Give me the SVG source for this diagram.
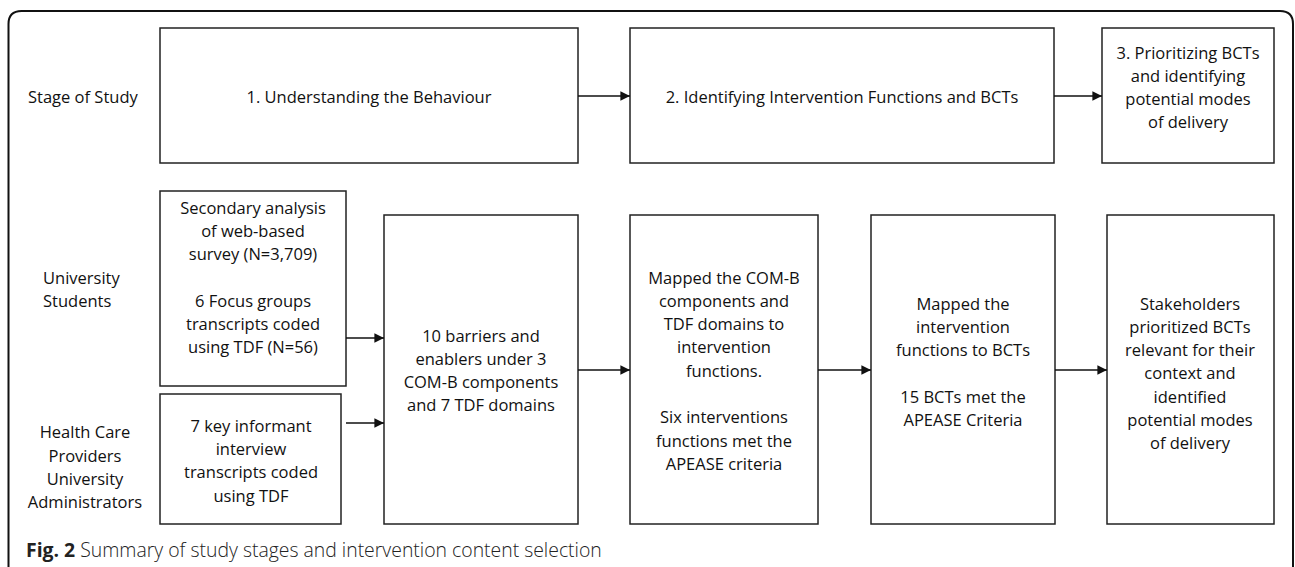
<svg xmlns="http://www.w3.org/2000/svg" width="1295" height="567" viewBox="0 0 1295 567">
<style>
.box{fill:#fff;stroke:#222;stroke-width:1.5}
.t{font-family:"Open Sans","Noto Sans",sans-serif;font-size:16.5px;fill:#111;text-anchor:middle}
.l{font-family:"Open Sans","Noto Sans",sans-serif;font-size:16.5px;fill:#111}
.c{stroke:#111;stroke-width:1.6;fill:none;marker-end:url(#ah)}
.cap{font-family:"Open Sans","Noto Sans",sans-serif;font-size:19.4px;fill:#222}
</style>
<defs>
<marker id="ah" viewBox="0 0 10 10" refX="10" refY="5" markerWidth="6" markerHeight="6" orient="auto" markerUnits="strokeWidth">
<path d="M0,0 L10,5 L0,10 z" fill="#111"/>
</marker>
</defs>
<rect width="1295" height="567" fill="#fff"/>
<path d="M8.5,567 V24 Q8.5,11 21.5,11 H1280 Q1293,11 1293,24 V567" fill="none" stroke="#111" stroke-width="2"/>

<g id="label-stage"><text class="l" x="28" y="103">Stage of Study</text></g>
<g id="label-students"><text class="l" x="43" y="284">University</text><text class="l" x="43" y="307">Students</text></g>
<g id="label-providers">
<text class="t" x="85" y="438">Health Care</text>
<text class="t" x="85" y="462">Providers</text>
<text class="t" x="85" y="485">University</text>
<text class="t" x="85" y="508">Administrators</text>
</g>

<g id="stage1"><rect class="box" x="160" y="28" width="418" height="135"/>
<text class="t" x="369" y="103">1. Understanding the Behaviour</text></g>
<g id="stage2"><rect class="box" x="630" y="28" width="424" height="135"/>
<text class="t" x="842" y="103">2. Identifying Intervention Functions and BCTs</text></g>
<g id="stage3"><rect class="box" x="1102" y="28" width="172" height="135"/>
<text class="t" x="1188" y="59">3. Prioritizing BCTs</text>
<text class="t" x="1188" y="82">and identifying</text>
<text class="t" x="1188" y="105">potential modes</text>
<text class="t" x="1188" y="128">of delivery</text></g>

<g id="survey"><rect class="box" x="160" y="191" width="186" height="195"/>
<text class="t" x="253" y="214">Secondary analysis</text>
<text class="t" x="253" y="237">of web-based</text>
<text class="t" x="253" y="260">survey (N=3,709)</text>
<text class="t" x="253" y="307">6 Focus groups</text>
<text class="t" x="253" y="330">transcripts coded</text>
<text class="t" x="253" y="353">using TDF (N=56)</text></g>

<g id="interviews"><rect class="box" x="160" y="394" width="181" height="130"/>
<text class="t" x="251" y="432">7 key informant</text>
<text class="t" x="251" y="455">interview</text>
<text class="t" x="251" y="478">transcripts coded</text>
<text class="t" x="251" y="502">using TDF</text></g>

<g id="barriers"><rect class="box" x="384" y="215" width="194" height="309"/>
<text class="t" x="481" y="342">10 barriers and</text>
<text class="t" x="481" y="365">enablers under 3</text>
<text class="t" x="481" y="388">COM-B components</text>
<text class="t" x="481" y="411">and 7 TDF domains</text></g>

<g id="mapped-functions"><rect class="box" x="630" y="215" width="188" height="309"/>
<text class="t" x="724" y="284">Mapped the COM-B</text>
<text class="t" x="724" y="307">components and</text>
<text class="t" x="724" y="330">TDF domains to</text>
<text class="t" x="724" y="353">intervention</text>
<text class="t" x="724" y="377">functions.</text>
<text class="t" x="724" y="423">Six interventions</text>
<text class="t" x="724" y="447">functions met the</text>
<text class="t" x="724" y="470">APEASE criteria</text></g>

<g id="mapped-bcts"><rect class="box" x="871" y="215" width="184" height="309"/>
<text class="t" x="963" y="310">Mapped the</text>
<text class="t" x="963" y="333">intervention</text>
<text class="t" x="963" y="356">functions to BCTs</text>
<text class="t" x="963" y="403">15 BCTs met the</text>
<text class="t" x="963" y="426">APEASE Criteria</text></g>

<g id="stakeholders"><rect class="box" x="1107" y="215" width="167" height="309"/>
<text class="t" x="1190" y="310">Stakeholders</text>
<text class="t" x="1190" y="333">prioritized BCTs</text>
<text class="t" x="1190" y="356">relevant for their</text>
<text class="t" x="1190" y="379">context and</text>
<text class="t" x="1190" y="403">identified</text>
<text class="t" x="1190" y="426">potential modes</text>
<text class="t" x="1190" y="449">of delivery</text></g>

<g id="connectors">
<line class="c" x1="578" y1="96" x2="630" y2="96"/>
<line class="c" x1="1054" y1="96" x2="1102" y2="96"/>
<line class="c" x1="346" y1="338" x2="384" y2="338"/>
<line class="c" x1="346" y1="423" x2="384" y2="423"/>
<line class="c" x1="578" y1="370" x2="630" y2="370"/>
<line class="c" x1="818" y1="370" x2="871" y2="370"/>
<line class="c" x1="1055" y1="370" x2="1107" y2="370"/>
</g>

<g id="caption"><text class="cap" x="26" y="557"><tspan font-weight="bold">Fig. 2</tspan><tspan font-weight="300"> Summary of study stages and intervention content selection</tspan></text></g>
</svg>
